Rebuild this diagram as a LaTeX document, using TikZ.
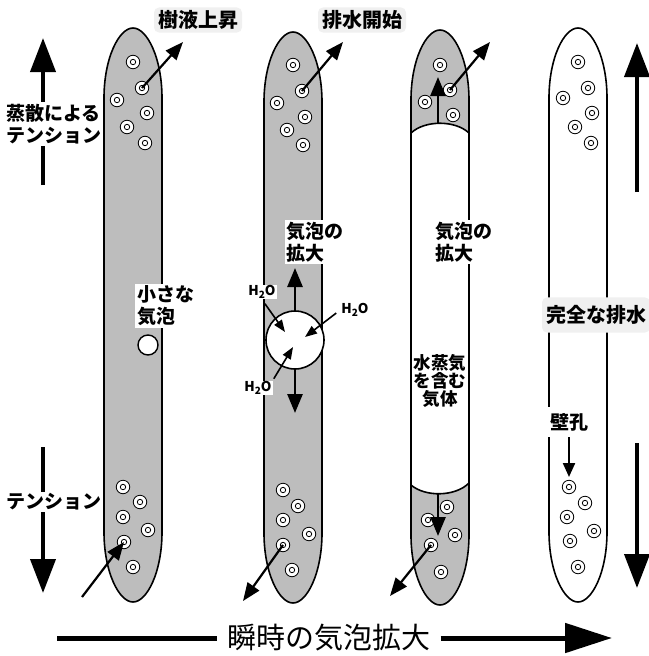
\documentclass[tikz,border=0pt]{standalone}
\usepackage{fontspec}
\setmainfont{Noto Sans CJK JP}
\usetikzlibrary{arrows.meta}

\definecolor{sapgray}{gray}{0.74}
\definecolor{taggray}{gray}{0.94}

% outline of one vessel: centre x, top y, bottom y
\newcommand{\xylem}[3]{({#1-29},{#2+70}) .. controls ({#1-29},{#2+30}) and ({#1-14},#2) .. (#1,#2)
  .. controls ({#1+14},#2) and ({#1+29},{#2+30}) .. ({#1+29},{#2+70})
  -- ({#1+29},{#3-70}) .. controls ({#1+29},{#3-30}) and ({#1+14},#3) .. (#1,#3)
  .. controls ({#1-14},#3) and ({#1-29},{#3-30}) .. ({#1-29},{#3-70}) -- cycle}

\begin{document}
\begin{tikzpicture}[x=1pt, y=-1pt,
	wall/.style={line width=1.6pt},
	pit/.style={circle, draw, fill=white, minimum size=13.5pt, inner sep=0pt, line width=0.8pt,
		path picture={\draw[line width=0.8pt] (path picture bounding box.center) circle (2.7pt);}},
	sap/.style={line width=2.2pt, -{Triangle[length=18pt,width=14pt]}},
	push/.style={line width=2.8pt, -{Triangle[length=19pt,width=15pt]}},
	wet/.style={line width=1.6pt, -{Triangle[length=12pt,width=9pt]}},
	pullarrow/.style={line width=4pt, -{Triangle[length=34pt,width=25pt]}},
	lbl/.style={font=\bfseries\fontsize{19}{22}\selectfont, fill=white, inner sep=2pt, align=left},
	tagbox/.style={lbl, font=\bfseries\fontsize{20}{22}\selectfont, fill=taggray, rounded corners=5pt, inner xsep=4pt, inner ysep=3pt},
	hoh/.style={font=\bfseries\fontsize{13.5}{13.5}\selectfont, fill=white, inner sep=1pt}]
	\useasboundingbox (0,0) rectangle (648,656);

	% vessels
	\draw[wall, fill=sapgray] \xylem{133}{28}{602};
	\draw[wall, fill=sapgray] \xylem{293}{32}{603};
	\begin{scope}
		\clip \xylem{440}{30}{605};
		\fill[sapgray] (400,0) -- (400,133) -- (411,133) .. controls (425,120) and (455,120) .. (469,133) -- (480,133) -- (480,0) -- cycle;
		\fill[sapgray] (400,660) -- (400,485) -- (411,485) .. controls (425,497) and (455,497) .. (469,483) -- (480,483) -- (480,660) -- cycle;
	\end{scope}
	\draw[wall] (411,133) .. controls (425,120) and (455,120) .. (469,133);
	\draw[wall] (411,485) .. controls (425,497) and (455,497) .. (469,483);
	\draw[wall] \xylem{440}{30}{605};
	\draw[wall] \xylem{578}{28}{602};

	% pits
	\foreach \x/\y [count=\i] in {133/62,142/88,117/100,147/113,127/127,145/143}
		\node[pit] (a\i) at (\x,\y) {};
	\foreach \x/\y [count=\i] in {123/487,140/502,123/517,148/530,124/542,133/567}
		\node[pit] (b\i) at (\x,\y) {};
	\foreach \x/\y [count=\i] in {293/65,302/91,277/103,305/117,287/130,303/145}
		\node[pit] (c\i) at (\x,\y) {};
	\foreach \x/\y [count=\i] in {283/490,298/506,283/520,309/534,283/545,292/570}
		\node[pit] (d\i) at (\x,\y) {};
	\foreach \x/\y [count=\i] in {440/65,450/90,425/102,453/115}
		\node[pit] (e\i) at (\x,\y) {};
	\foreach \x/\y [count=\i] in {447/507,428/520,455/535,431/545,441/572}
		\node[pit] (f\i) at (\x,\y) {};
	\foreach \x/\y [count=\i] in {578/62,588/88,563/98,592/113,575/127,591/143}
		\node[pit] (g\i) at (\x,\y) {};
	\foreach \x/\y [count=\i] in {569/487,585/503,567/517,594/531,570/541,578/567}
		\node[pit] (h\i) at (\x,\y) {};

	% bubbles
	\node[circle, draw, fill=white, line width=1.4pt, minimum size=20pt, inner sep=0pt] (seed) at (148,345) {};
	\node[circle, draw, fill=white, line width=1.6pt, minimum size=58pt, inner sep=0pt] (bubble) at (295,340) {};

	% sap and drainage through the pits
	\coordinate (out1) at (183,42);
	\coordinate (in1) at (82,597);
	\coordinate (out2) at (343,42);
	\coordinate (out2b) at (243,601);
	\coordinate (out3) at (490,42);
	\coordinate (out3b) at (390,596);
	\draw[sap] (a2.center) -- (out1);
	\draw[sap] (in1) -- (b5.center);
	\draw[sap] (c2.center) -- (out2);
	\draw[sap] (d5.center) -- (out2b);
	\draw[sap] (e2.center) -- (out3);
	\draw[sap] (f4.center) -- (out3b);

	% meniscus movement
	\coordinate (m1) at (438,123);
	\coordinate (m1up) at (438,77);
	\coordinate (m2) at (438,493);
	\coordinate (m2dn) at (438,536);
	\draw[push] (m1) -- (m1up);
	\draw[push] (m2) -- (m2dn);

	% bubble growth
	\coordinate (grow1) at (295,268);
	\coordinate (grow2) at (295,413);
	\draw[push] (bubble.north) -- (grow1);
	\draw[push] (bubble.south) -- (grow2);

	% tension arrows
	\coordinate (tl1) at (43,185);
	\coordinate (tl2) at (43,38);
	\coordinate (tl3) at (43,447);
	\coordinate (tl4) at (43,593);
	\coordinate (tr1) at (637,192);
	\coordinate (tr2) at (637,43);
	\coordinate (tr3) at (637,443);
	\coordinate (tr4) at (637,588);
	\draw[pullarrow] (tl1) -- (tl2);
	\draw[pullarrow] (tl3) -- (tl4);
	\draw[pullarrow] (tr1) -- (tr2);
	\draw[pullarrow] (tr3) -- (tr4);

	% labels
	\node[tagbox] (rise) at (198,20) {樹液上昇};
	\node[tagbox] (drain) at (362,20) {排水開始};
	\node[tagbox, inner ysep=8pt] (empty) at (596,315) {完全な排水};
	\node[lbl, anchor=west] (pull) at (4,124) {蒸散による\\テンション};
	\node[lbl, anchor=west] (pull2) at (4,502) {テンション};
	\node[lbl, anchor=west] (small) at (135,306) {小さな\\気泡};
	\node[lbl] (grow) at (315,242) {気泡の\\拡大};
	\node[lbl] (grow3) at (464,242) {気泡の\\拡大};
	\node[lbl, font=\bfseries\fontsize{17.5}{16.5}\selectfont, align=center, inner xsep=2pt, inner ysep=1pt] (vapour) at (440,381) {水蒸気\\を含む\\気体};
	\node[lbl, inner ysep=6pt] (pore) at (569,422) {壁孔};
	\coordinate (pore2) at (569,477);
	\draw[line width=2.2pt, -{Triangle[length=14pt,width=12pt]}] (pore.south) -- (pore2);

	% water entering the bubble
	\node[hoh] (w1) at (262,292) {H\raisebox{-0.35ex}{\fontsize{10}{10}\selectfont 2}O};
	\node[hoh] (w2) at (355,310) {H\raisebox{-0.35ex}{\fontsize{10}{10}\selectfont 2}O};
	\node[hoh] (w3) at (258,388) {H\raisebox{-0.35ex}{\fontsize{10}{10}\selectfont 2}O};
	\coordinate (i1) at (285,332);
	\coordinate (i2) at (305,337);
	\coordinate (i3) at (293,347);
	\draw[wet, shorten <=5pt] (w1.south) -- (i1);
	\draw[wet, shorten <=5pt] (w2.west) -- (i2);
	\draw[wet, shorten <=2pt] (w3.north east) -- (i3);

	% bottom arrow
	\node[font=\fontsize{29}{29}\selectfont, inner xsep=10pt] (burst) at (329,638) {瞬時の気泡拡大};
	\coordinate (bl) at (57,638);
	\coordinate (br) at (612,638);
	\draw[line width=5pt] (bl) -- (burst.west);
	\draw[line width=5pt, -{Triangle[length=47pt,width=29pt]}] (burst.east) -- (br);
\end{tikzpicture}
\end{document}
